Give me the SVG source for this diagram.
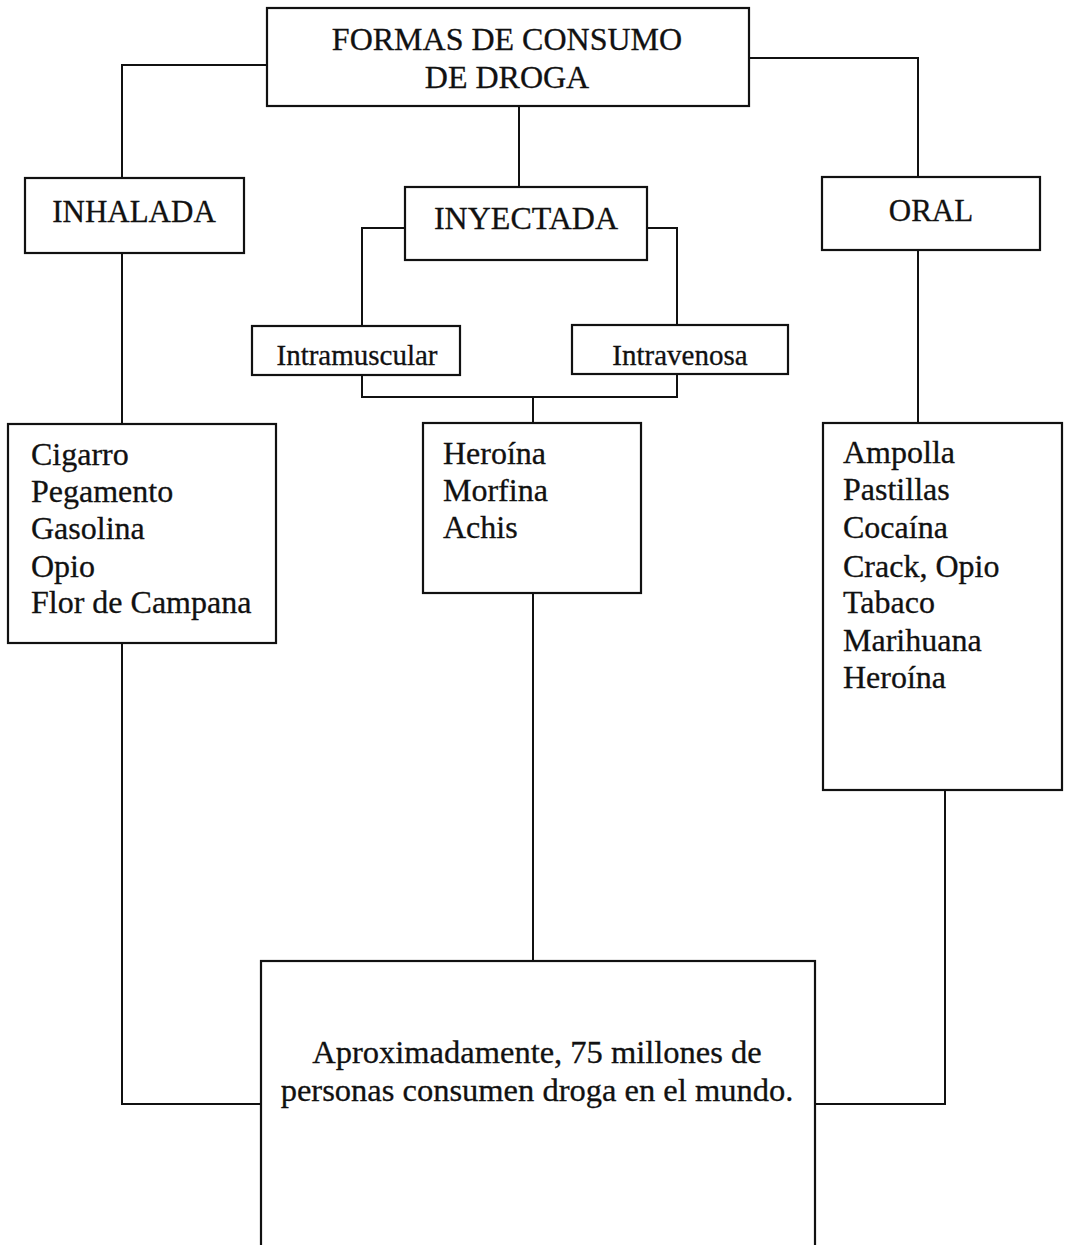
<svg xmlns="http://www.w3.org/2000/svg" width="1065" height="1245" viewBox="0 0 1065 1245">
<style>
.box{fill:#fff;stroke:#111;stroke-width:2.2}
.t{font-family:"Liberation Serif","Times New Roman",serif;font-size:32px;fill:#111;stroke:#111;stroke-width:0.3}
.c{text-anchor:middle}
.s{font-size:29px}
.ln{fill:none;stroke:#111;stroke-width:2}
</style>
<rect width="1065" height="1245" fill="#fff"/>
<g id="connectors">
<polyline class="ln" points="267,65 122,65 122,178"/>
<polyline class="ln" points="749,58 918,58 918,177"/>
<line class="ln" x1="519" y1="106" x2="519" y2="187"/>
<polyline class="ln" points="405,228 362,228 362,326"/>
<polyline class="ln" points="647,228 677,228 677,325"/>
<polyline class="ln" points="362,375 362,397 677,397 677,374"/>
<line class="ln" x1="533" y1="397" x2="533" y2="423"/>
<line class="ln" x1="122" y1="253" x2="122" y2="424"/>
<line class="ln" x1="918" y1="250" x2="918" y2="423"/>
<polyline class="ln" points="122,643 122,1104 261,1104"/>
<line class="ln" x1="533" y1="593" x2="533" y2="961"/>
<polyline class="ln" points="945,790 945,1104 815,1104"/>
</g>
<g id="root">
<rect class="box" x="267" y="8" width="482" height="98"/>
<text class="t c" x="507" y="50">FORMAS DE CONSUMO</text>
<text class="t c" x="507" y="88">DE DROGA</text>
</g>
<g id="inhalada">
<rect class="box" x="25" y="178" width="219" height="75"/>
<text class="t c" x="134" y="222" style="font-size:31px">INHALADA</text>
</g>
<g id="inyectada">
<rect class="box" x="405" y="187" width="242" height="73"/>
<text class="t c" x="526" y="229">INYECTADA</text>
</g>
<g id="oral">
<rect class="box" x="822" y="177" width="218" height="73"/>
<text class="t c" x="931" y="221" style="font-size:31px">ORAL</text>
</g>
<g id="intramuscular">
<rect class="box" x="252" y="326" width="208" height="49"/>
<text class="t c s" x="357" y="365">Intramuscular</text>
</g>
<g id="intravenosa">
<rect class="box" x="572" y="325" width="216" height="49"/>
<text class="t c s" x="680" y="365">Intravenosa</text>
</g>
<g id="inhalada-list">
<rect class="box" x="8" y="424" width="268" height="219"/>
<text class="t" x="31" y="465">Cigarro</text>
<text class="t" x="31" y="502">Pegamento</text>
<text class="t" x="31" y="539">Gasolina</text>
<text class="t" x="31" y="577">Opio</text>
<text class="t" x="31" y="613">Flor de Campana</text>
</g>
<g id="inyectada-list">
<rect class="box" x="423" y="423" width="218" height="170"/>
<text class="t" x="443" y="464">Heroína</text>
<text class="t" x="443" y="501">Morfina</text>
<text class="t" x="443" y="538">Achis</text>
</g>
<g id="oral-list">
<rect class="box" x="823" y="423" width="239" height="367"/>
<text class="t" x="843" y="463">Ampolla</text>
<text class="t" x="843" y="500">Pastillas</text>
<text class="t" x="843" y="538">Cocaína</text>
<text class="t" x="843" y="577">Crack, Opio</text>
<text class="t" x="843" y="613">Tabaco</text>
<text class="t" x="843" y="651">Marihuana</text>
<text class="t" x="843" y="688">Heroína</text>
</g>
<g id="total">
<rect class="box" x="261" y="961" width="554" height="300"/>
<text class="t c" x="537" y="1063" style="font-size:32.5px">Aproximadamente, 75 millones de</text>
<text class="t c" x="537" y="1101" style="font-size:32.5px">personas consumen droga en el mundo.</text>
</g>
</svg>
